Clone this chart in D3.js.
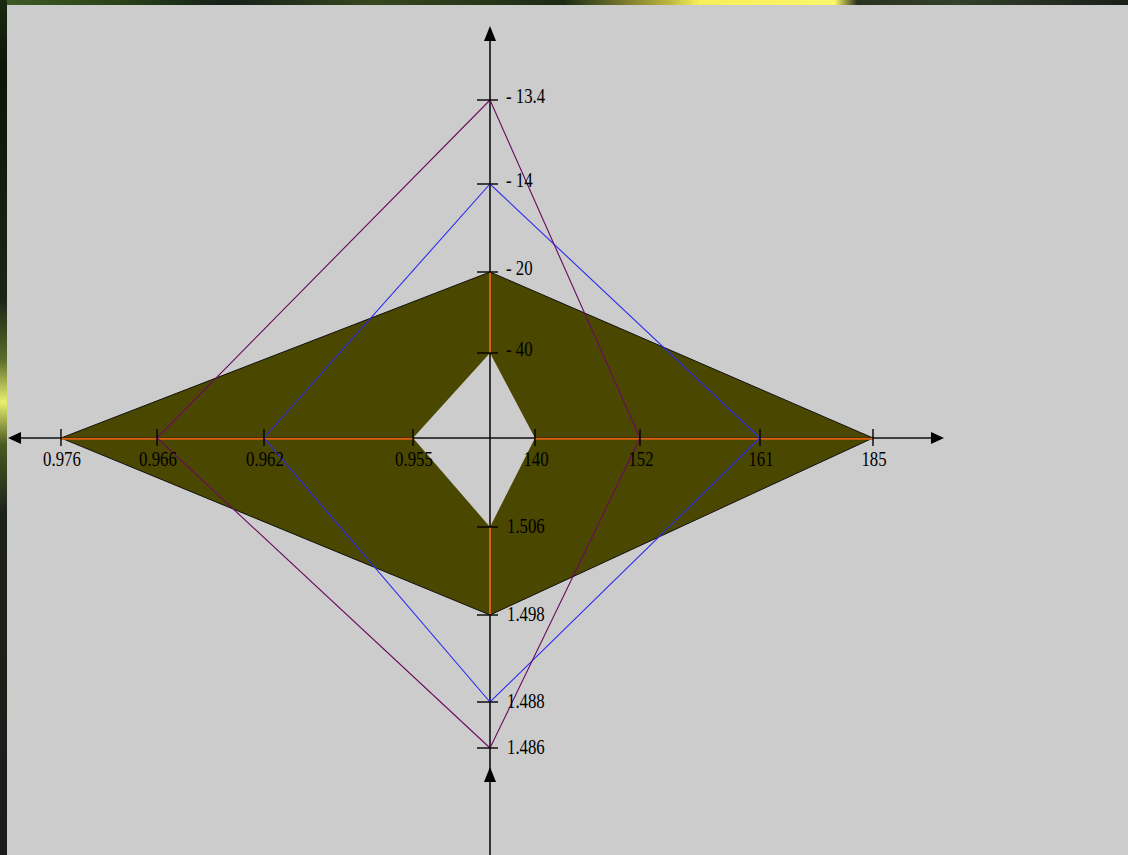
<!DOCTYPE html>
<html>
<head>
<meta charset="utf-8">
<script src="https://cdn.jsdelivr.net/npm/d3@7/dist/d3.min.js"></script>
<style>
  html, body { margin: 0; padding: 0; background: #1d211b; }
  svg { display: block; }
</style>
</head>
<body>
<svg id="chart" width="1128" height="855"></svg>
<script>
// Tick values on each of the four half-axes (centre outwards)
const leftTicks  = [0.955, 0.962, 0.966, 0.976];
const rightTicks = [140, 152, 161, 185];
const upTicks    = [40, 20, 14, 13.4];
const downTicks  = [1.506, 1.498, 1.488, 1.486];

// Tick labels as printed
const leftLabels  = ["0.955", "0.962", "0.966", "0.976"];
const rightLabels = ["140", "152", "161", "185"];
const upLabels    = ["- 40", "- 20", "- 14", "- 13.4"];
const downLabels  = ["1.506", "1.498", "1.488", "1.486"];

// Series values: [left, up, right, down]
const bandOuter    = [0.976, 20, 185, 1.498];
const bandInner    = [0.955, 40, 140, 1.506];
const blueSeries   = [0.962, 14, 161, 1.488];
const purpleSeries = [0.966, 13.4, 152, 1.486];

// ---- layout ----
const W = 1128, H = 855;
const cx = 490, cy = 438;
const svg = d3.select("#chart");

// Piecewise scales: tick value -> distance from the centre
const scales = {
  left:  d3.scaleLinear().domain(leftTicks).range([77, 226, 333, 429]),
  up:    d3.scaleLinear().domain(upTicks).range([85, 166, 254, 338]),
  right: d3.scaleLinear().domain(rightTicks).range([45, 150, 270, 383]),
  down:  d3.scaleLinear().domain(downTicks).range([89, 177, 264, 310])
};
const dirs = ["left", "up", "right", "down"];
function pt(dir, v) {
  const d = scales[dir](v);
  if (dir === "left")  return [cx - d, cy];
  if (dir === "right") return [cx + d, cy];
  if (dir === "up")    return [cx, cy - d];
  return [cx, cy + d];
}
const ring = vals => dirs.map((dir, i) => pt(dir, vals[i]));
const closed = d3.line().curve(d3.curveLinearClosed);

// ---- backdrop ----
const defs = svg.append("defs");
const topGrad = defs.append("linearGradient").attr("id", "topStrip");
[[0, "#3f5d25"], [0.1, "#2c4418"], [0.2, "#14201a"], [0.33, "#36481f"],
 [0.5, "#1c2a14"], [0.59, "#b8b040"], [0.62, "#f6ef5a"], [0.74, "#fbf66a"],
 [0.76, "#2a3220"], [0.85, "#34402c"], [1, "#1a1e18"]]
  .forEach(([o, c]) => topGrad.append("stop").attr("offset", o).attr("stop-color", c));
const leftGrad = defs.append("linearGradient").attr("id", "leftStrip")
  .attr("x1", 0).attr("y1", 0).attr("x2", 0).attr("y2", 1);
[[0, "#1b2a10"], [0.08, "#0c1608"], [0.35, "#1c2418"], [0.42, "#5a6a2a"],
 [0.47, "#e8f070"], [0.52, "#4a5a20"], [0.6, "#1e221c"], [1, "#1c1c1a"]]
  .forEach(([o, c]) => leftGrad.append("stop").attr("offset", o).attr("stop-color", c));

svg.append("rect").attr("width", W).attr("height", 5).attr("fill", "url(#topStrip)");
svg.append("rect").attr("y", 0).attr("width", 7).attr("height", H).attr("fill", "url(#leftStrip)");
svg.append("rect").attr("x", 7).attr("y", 5).attr("width", W - 7).attr("height", H - 5)
  .attr("fill", "#cccccc");

// ---- olive band (outer ring with a hole) ----
const outerPts = ring(bandOuter), innerPts = ring(bandInner);
svg.append("path")
  .attr("d", closed(outerPts) + closed(innerPts))
  .attr("fill", "#4a4700")
  .attr("fill-rule", "evenodd");
svg.append("path")
  .attr("d", closed(outerPts))
  .attr("fill", "none").attr("stroke", "#111").attr("stroke-width", 1);

// ---- axes ----
const axisColor = "#111";
svg.append("line").attr("x1", 14).attr("x2", 935).attr("y1", cy).attr("y2", cy)
  .attr("stroke", axisColor).attr("stroke-width", 1.6);
svg.append("line").attr("x1", cx).attr("x2", cx).attr("y1", 34).attr("y2", H)
  .attr("stroke", axisColor).attr("stroke-width", 1.6);

const arrow = (tip, a, b) => svg.append("path")
  .attr("d", "M" + tip + "L" + a + "L" + b + "Z").attr("fill", "#000");
arrow([8, cy], [21, cy - 6], [21, cy + 6]);
arrow([944, cy], [931, cy - 6], [931, cy + 6]);
arrow([cx, 26], [cx - 6, 41], [cx + 6, 41]);
arrow([cx, 767], [cx - 6, 782], [cx + 6, 782]);

// ---- orange band segments along each axis ----
dirs.forEach((dir, i) => {
  const a = pt(dir, bandInner[i]), b = pt(dir, bandOuter[i]);
  const horiz = dir === "left" || dir === "right";
  svg.append("line")
    .attr("x1", a[0]).attr("y1", a[1] + (horiz ? 0.8 : 0))
    .attr("x2", b[0]).attr("y2", b[1] + (horiz ? 0.8 : 0))
    .attr("stroke", "#d9600f").attr("stroke-width", 2);
});

// ---- diamonds ----
svg.append("path").attr("d", closed(ring(blueSeries)))
  .attr("fill", "none").attr("stroke", "#2c2cf0").attr("stroke-width", 1.1);
svg.append("path").attr("d", closed(ring(purpleSeries)))
  .attr("fill", "none").attr("stroke", "#6a0a5e").attr("stroke-width", 1.1);

// ---- ticks ----
const tickG = svg.append("g").attr("stroke", "#000").attr("stroke-width", 1.4);
[["left", leftTicks], ["right", rightTicks]].forEach(([dir, ticks]) => {
  ticks.forEach(v => {
    const p = pt(dir, v);
    tickG.append("line").attr("x1", p[0]).attr("x2", p[0]).attr("y1", cy - 9).attr("y2", cy + 8);
  });
});
[["up", upTicks], ["down", downTicks]].forEach(([dir, ticks]) => {
  ticks.forEach(v => {
    const p = pt(dir, v);
    tickG.append("line").attr("x1", cx - 13).attr("x2", cx + 8).attr("y1", p[1]).attr("y2", p[1]);
  });
});

// ---- labels ----
const font = "'Liberation Serif', 'Times New Roman', serif";
const labelG = svg.append("g");
function label(x, y, text, anchor) {
  labelG.append("g").attr("transform", `translate(${x},${y}) scale(0.8,1)`)
    .append("text").text(text)
    .attr("font-family", font).attr("font-size", 21)
    .attr("text-anchor", anchor).attr("fill", "#000");
}
leftTicks.forEach((v, i) => label(pt("left", v)[0] + 1, cy + 28, leftLabels[i], "middle"));
rightTicks.forEach((v, i) => label(pt("right", v)[0] + 1, cy + 28, rightLabels[i], "middle"));
upTicks.forEach((v, i) => label(cx + 16, pt("up", v)[1] + 3, upLabels[i], "start"));
downTicks.forEach((v, i) => label(cx + 17, pt("down", v)[1] + 6, downLabels[i], "start"));
</script>
</body>
</html>
